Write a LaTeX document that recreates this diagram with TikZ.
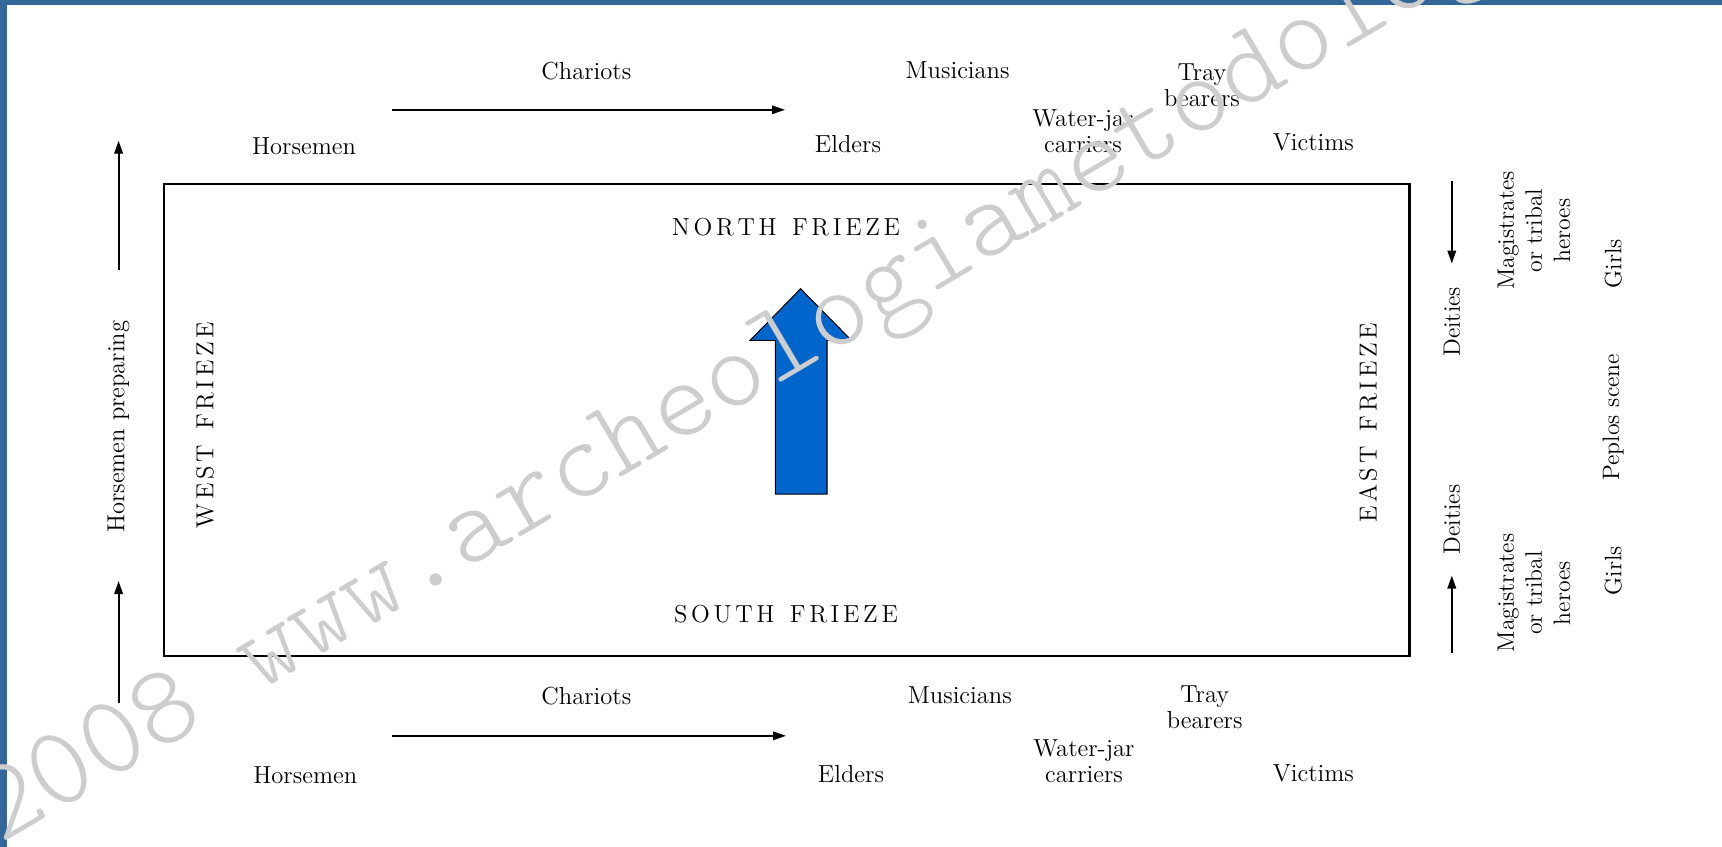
\documentclass[tikz,border=0pt]{standalone}
\usepackage{fontspec}
\usepackage{xcolor}
\usepackage{tikz}
\usetikzlibrary{arrows.meta,calc}

\newfontfamily\markfont{lmmonolt10-regular.otf}

\definecolor{frameblue}{RGB}{51,102,153}
\definecolor{arrowblue}{RGB}{0,102,204}
\definecolor{markgray}{RGB}{205,205,205}

% spaced capitals for the frieze names
\newcommand\spreadcaps[1]{\spreadcapsloop#1\relax}
\def\spreadcapsloop#1{\ifx#1\relax\unkern\else#1\kern2.1pt\expandafter\spreadcapsloop\fi}

\tikzset{
  lbl/.style={
    inner sep=0pt,
    align=center,
    font=\fontsize{14}{15}\selectfont
  },
  frieze/.style={
    inner sep=0pt,
    font=\fontsize{14}{16}\selectfont
  },
  flow/.style={
    line width=1.1pt,
    -{Triangle[length=2.6mm,width=1.7mm]}
  },
  % rotated text on the short sides
  side/.style={
    lbl,
    rotate=90,
    font=\fontsize{13.5}{16}\selectfont
  }
}

\begin{document}
\begin{tikzpicture}[x=0.2mm,y=-0.2mm]
  \useasboundingbox (0,0) rectangle (1722,847);
  % blue slide frame
  \fill[frameblue] (0,0) rectangle (1722,5);
  \fill[frameblue] (0,0) rectangle (7,847);

  % the building
  \draw[line width=1.7pt] (164,184) rectangle (1409,656);
  \node[frieze] (north) at (786,227) {\spreadcaps{NORTH\ FRIEZE}};
  \node[frieze] (south) at (786,614) {\spreadcaps{SOUTH\ FRIEZE}};
  \node[frieze,rotate=90] (west) at (205,425) {\spreadcaps{WEST\ FRIEZE}};
  \node[frieze,rotate=90] (east) at (1368,423) {\spreadcaps{EAST\ FRIEZE}};

  % entrance
  \draw[fill=arrowblue,line width=0.6pt] (800.6,288.8) -- (851.5,340.4) -- (827,340.4)
    -- (827,494.2) -- (775.3,494.2) -- (775.3,340.4) -- (750,340.4) -- cycle;

  % north side
  \node[lbl] (chariotsN) at (586.4,71.4) {Chariots};
  \node[lbl] (horseN) at (304,146) {Horsemen};
  \node[lbl] (musicN) at (957.6,70.3) {Musicians};
  \node[lbl] (eldersN) at (848,143.9) {Elders};
  \node[lbl] (trayN) at (1202,85.6) {Tray\\bearers};
  \node[lbl] (waterN) at (1083,131.5) {Water-jar\\carriers};
  \node[lbl] (victimsN) at (1313.4,142.8) {Victims};
  \coordinate (nA) at (392,109.8);
  \coordinate (nB) at (785,109.8);
  \draw[flow] (nA) -- (nB);

  % south side
  \node[lbl] (chariotsS) at (586.4,696.3) {Chariots};
  \node[lbl] (horseS) at (305.3,775.3) {Horsemen};
  \node[lbl] (musicS) at (959.8,695.2) {Musicians};
  \node[lbl] (eldersS) at (851,774.2) {Elders};
  \node[lbl] (trayS) at (1204.7,707.2) {Tray\\bearers};
  \node[lbl] (waterS) at (1084,761) {Water-jar\\carriers};
  \node[lbl] (victimsS) at (1313.4,773) {Victims};
  \coordinate (sA) at (392,735.8);
  \coordinate (sB) at (786,735.8);
  \draw[flow] (sA) -- (sB);

  % west side
  \node[side,font=\fontsize{14}{16}\selectfont] (prep) at (118.6,426.7) {Horsemen preparing};
  \coordinate (wA) at (118.6,270);
  \coordinate (wB) at (118.6,140.6);
  \coordinate (wC) at (118.6,703);
  \coordinate (wD) at (118.6,581);
  \draw[flow] (wA) -- (wB);
  \draw[flow] (wC) -- (wD);

  % east side
  \node[side] (deitiesN) at (1451.8,321.8) {Deities};
  \node[side] (deitiesS) at (1451.8,519.4) {Deities};
  \node[side] (magN) at (1534,230.6) {Magistrates\\or tribal\\heroes};
  \node[side] (magS) at (1534,593) {Magistrates\\or tribal\\heroes};
  \node[side] (girlsN) at (1613.2,263.6) {Girls};
  \node[side] (girlsS) at (1613.2,571) {Girls};
  \node[side] (peplos) at (1613.2,417.3) {Peplos scene};
  \coordinate (eA) at (1451.8,181.2);
  \coordinate (eB) at (1451.8,263.6);
  \coordinate (eC) at (1451.8,653.4);
  \coordinate (eD) at (1451.8,575.5);
  \draw[flow] (eA) -- (eB);
  \draw[flow] (eC) -- (eD);

  % watermark
  \begin{scope}
    \clip (0,0) rectangle (1722,847);
    \node[rotate=30.6,anchor=base west,inner sep=0pt,text=markgray,
      font=\fontsize{65}{65}\selectfont\markfont] (mark) at (0,845)
      {2008 www.archeologiametodologie.it};
  \end{scope}
\end{tikzpicture}
\end{document}
